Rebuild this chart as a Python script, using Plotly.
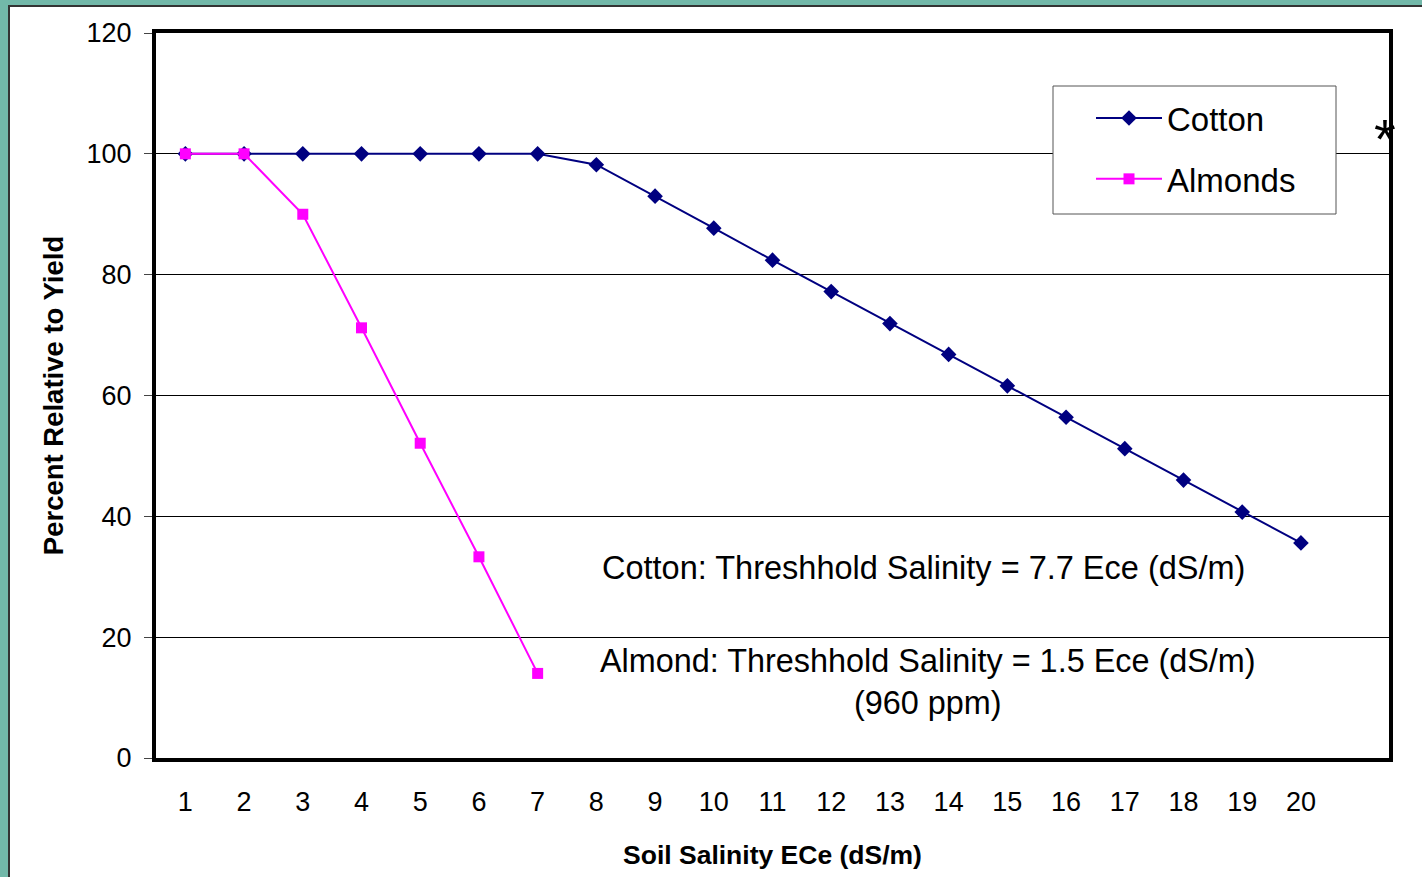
import plotly.graph_objects as go

salinity = list(range(1, 21))
cotton = [100, 100, 100, 100, 100, 100, 100, 98.2, 93.0, 87.7, 82.4, 77.2, 71.9,
          66.8, 61.6, 56.4, 51.2, 46.0, 40.7, 35.6]
almond_x = [1, 2, 3, 4, 5, 6, 7]
almonds = [100, 100, 90.0, 71.2, 52.1, 33.3, 14.0]
y_ticks = [0, 20, 40, 60, 80, 100, 120]

FONT = "Liberation Sans, Arial, sans-serif"
L, R, T, B = 156, 33, 33, 119
W, H = 1422, 877
PW, PH = W - L - R, H - T - B


def px(xp):
    return (xp - L) / PW


def py(yp):
    return (H - B - yp) / PH


fig = go.Figure()
fig.add_trace(go.Scatter(
    x=salinity, y=cotton, name="Cotton", mode="lines+markers", legendgroup="c",
    line=dict(color="#000080", width=2),
    marker=dict(symbol="diamond", size=12, color="#000080"),
    cliponaxis=False,
))
fig.add_trace(go.Scatter(
    x=almond_x, y=almonds, name="Almonds", mode="lines+markers", legendgroup="a",
    line=dict(color="#FF00FF", width=2),
    marker=dict(symbol="square", size=11, color="#FF00FF"),
    cliponaxis=False,
))

# white panel on teal background
fig.add_shape(type="rect", xref="paper", yref="paper",
              x0=px(9), x1=px(1430), y0=py(885), y1=py(6),
              fillcolor="white", line=dict(color="#333333", width=2), layer="below")
# legend box
fig.add_shape(type="rect", xref="paper", yref="paper",
              x0=px(1053), x1=px(1336), y0=py(214), y1=py(86),
              fillcolor="white", line=dict(color="#555555", width=1), layer="above")

fig.add_annotation(x=13.57, y=31.45, text="Cotton: Threshhold Salinity = 7.7 Ece (dS/m)",
                   showarrow=False, font=dict(family=FONT, size=32.5, color="black"))
fig.add_annotation(x=13.65, y=12.6,
                   text="Almond: Threshhold Salinity = 1.5 Ece (dS/m)<br>(960 ppm)",
                   showarrow=False, align="center",
                   font=dict(family=FONT, size=32.4, color="black"))
fig.add_annotation(x=21.44, y=102.5, text="*", showarrow=False,
                   font=dict(family=FONT, size=56, color="black"))

fig.update_layout(
    width=W, height=H,
    margin=dict(l=L, r=R, t=T, b=B),
    paper_bgcolor="#72b8a9",
    plot_bgcolor="white",
    font=dict(family=FONT, color="black"),
    showlegend=True,
    legend=dict(
        x=px(1091), y=py(90), xanchor="left", yanchor="top",
        bgcolor="rgba(0,0,0,0)", borderwidth=0,
        font=dict(family=FONT, size=33, color="black"),
        itemwidth=66, tracegroupgap=15,
    ),
    xaxis=dict(
        range=[0.5, 21.5], tickmode="array", tickvals=salinity,
        ticktext=[str(v) for v in salinity],
        showgrid=False, zeroline=False,
        showline=True, linecolor="black", linewidth=4, mirror=True,
        ticks="", ticklabelstandoff=17,
        tickfont=dict(family=FONT, size=27, color="black"),
        title=dict(text="<b>Soil Salinity ECe (dS/m)</b>", standoff=30,
                   font=dict(family=FONT, size=26.5, color="black")),
    ),
    yaxis=dict(
        range=[0, 120], tickmode="array", tickvals=y_ticks,
        showgrid=True, gridcolor="black", gridwidth=1, zeroline=False,
        showline=True, linecolor="black", linewidth=4, mirror=True,
        ticks="outside", ticklen=8, tickcolor="#444444", tickwidth=1,
        ticklabelstandoff=7,
        tickfont=dict(family=FONT, size=27, color="black"),
        title=dict(text="<b>Percent Relative to Yield</b>", standoff=16,
                   font=dict(family=FONT, size=27.5, color="black")),
    ),
)

fig.write_html("out.html")
